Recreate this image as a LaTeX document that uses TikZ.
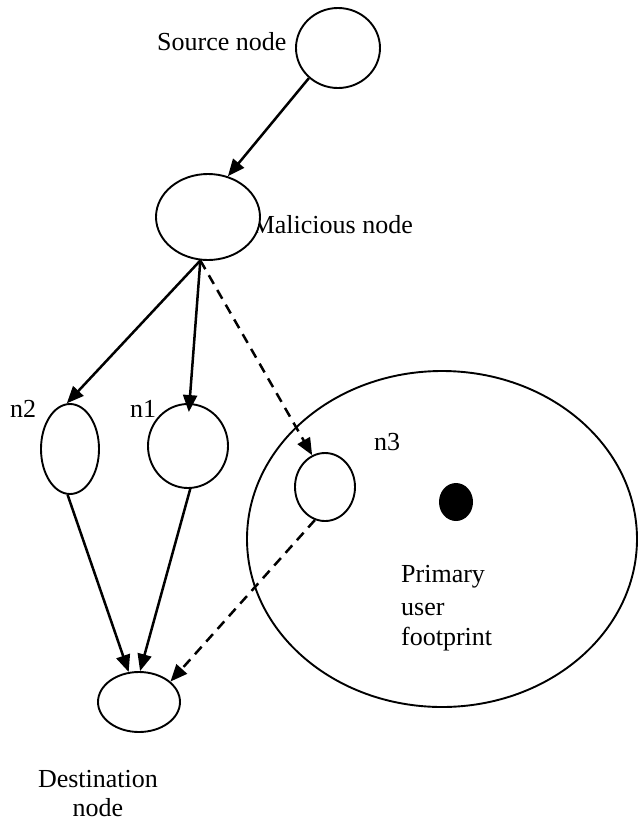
\documentclass[tikz,border=0pt]{standalone}
\usepackage{fontspec}
\setmainfont{Liberation Serif}
\usetikzlibrary{shapes.geometric,arrows.meta}
\tikzset{
  oval/.style={ellipse,draw,line width=1.9pt,inner sep=0pt,fill=white},
  lbl/.style={inner sep=0pt,font=\fontsize{26}{30}\selectfont},
  link/.style={line width=2.5pt,-{Triangle[length=17pt,width=14pt]}},
  dlink/.style={link,dash pattern=on 10pt off 7pt},
}
\begin{document}
\begin{tikzpicture}[x=1pt,y=-1pt]
\useasboundingbox (0,0) rectangle (638,823);
% labels
\node[lbl,anchor=base west] (tsrc) at (157,50) {Source node};
\node[lbl,anchor=base east] (tmal) at (413,233) {Malicious node};
\node[lbl,anchor=base west] (tn2) at (10,417) {n2};
\node[lbl,anchor=base west] (tn1) at (130,417) {n1};
\node[lbl,anchor=base west] (tn3) at (374,450) {n3};
% nodes
\node[oval,minimum width=84pt,minimum height=80pt] (src) at (338,48) {};
\node[oval,minimum width=104pt,minimum height=86pt] (mal) at (208,217) {};
\node[oval,minimum width=58pt,minimum height=90pt] (n2) at (70,449) {};
\node[oval,minimum width=80pt,minimum height=84pt] (n1) at (188,446) {};
\node[oval,fill=none,minimum width=390pt,minimum height=336pt] (pu) at (442,539) {};
\node[oval,minimum width=60pt,minimum height=68pt] (n3) at (325,487) {};
\node[ellipse,fill=black,inner sep=0pt,minimum width=34pt,minimum height=38pt] (dot) at (456,502) {};
\node[oval,minimum width=82pt,minimum height=60pt] (dst) at (139,702) {};
\node[lbl,anchor=base west] (tpu) at (401,582) {Primary};
\node[lbl,anchor=base west] (tpu2) at (401,615) {user};
\node[lbl,anchor=base west] (tpu3) at (401,645) {footprint};
\node[lbl,anchor=base] (tdst) at (98,787) {Destination};
\node[lbl,anchor=base] (tdst2) at (98,816) {node};
% connectors
\draw[link] (src.226) -- (mal.64);
\draw[link] (mal.260) -- (n2.94);
\draw[link,shorten >=-9pt] (mal.260) -- (n1.88);
\draw[dlink] (mal.260) -- (n3.112);
\draw[link] (n2.267) -- (dst.109);
\draw[link] (n1.273) -- (dst.88);
\draw[dlink] (n3.253) -- (dst.33);
\end{tikzpicture}
\end{document}
